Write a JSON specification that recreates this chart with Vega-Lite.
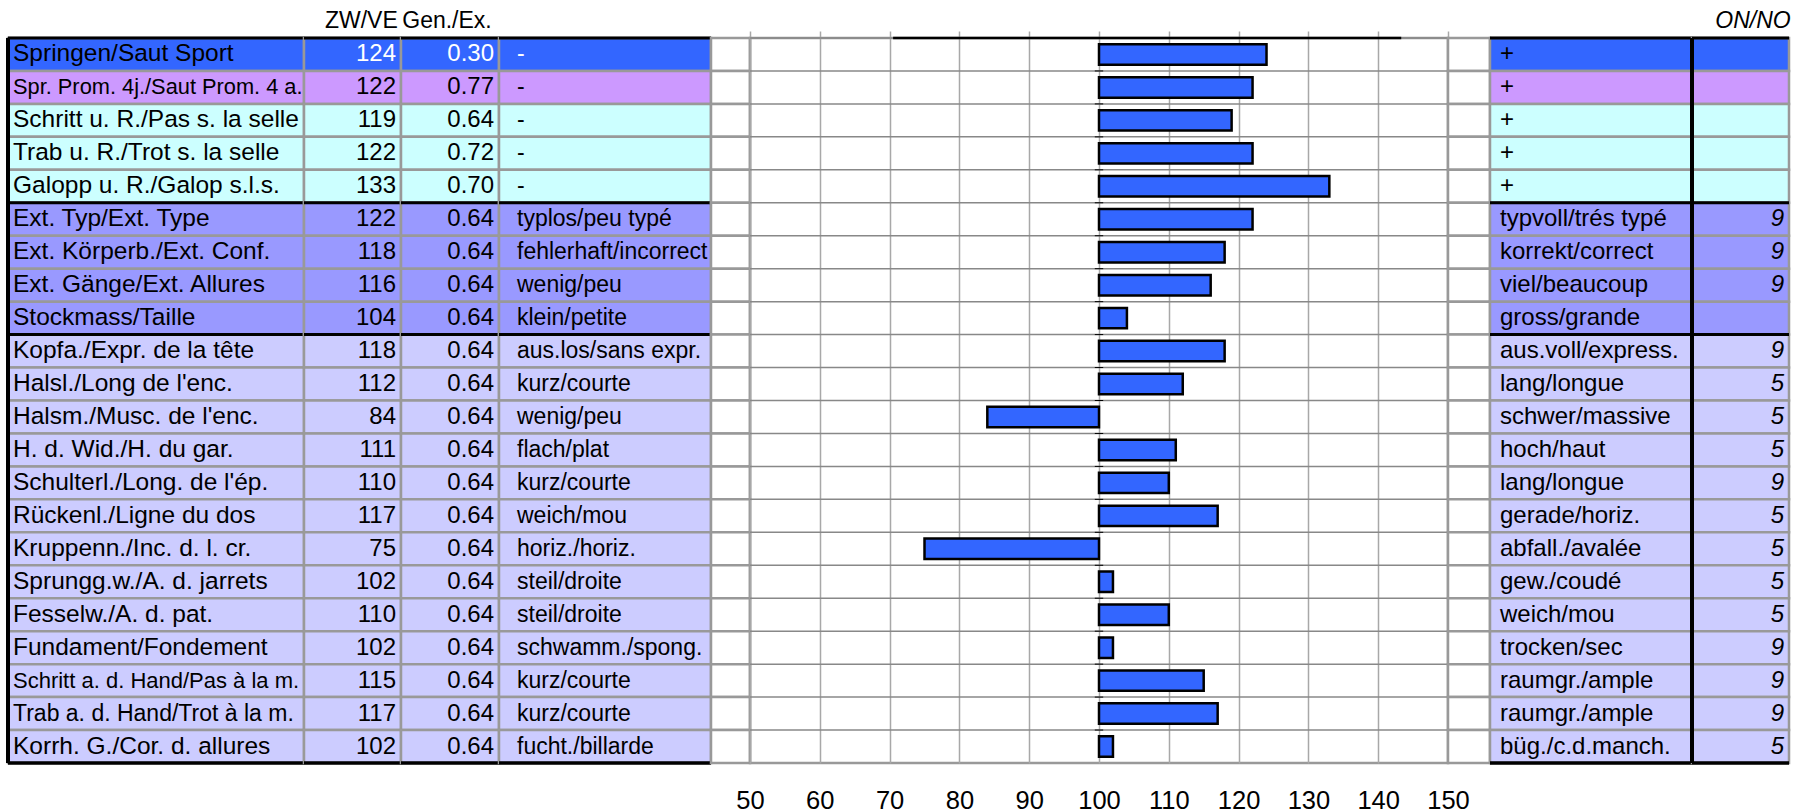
{
  "$schema": "https://vega.github.io/schema/vega-lite/v6.json",
  "padding": {"left": 6, "top": 10, "right": 0, "bottom": 0},
  "background": "white",
  "data": {"values": [
    {"i": 1, "name": "Springen/Saut Sport", "zw": 124, "gen": 0.30, "lo": "-", "hi": "+", "on": "", "g": "a"},
    {"i": 2, "name": "Spr. Prom. 4j./Saut Prom. 4 a.", "zw": 122, "gen": 0.77, "lo": "-", "hi": "+", "on": "", "g": "b"},
    {"i": 3, "name": "Schritt u. R./Pas s. la selle", "zw": 119, "gen": 0.64, "lo": "-", "hi": "+", "on": "", "g": "c"},
    {"i": 4, "name": "Trab u. R./Trot s. la selle", "zw": 122, "gen": 0.72, "lo": "-", "hi": "+", "on": "", "g": "c"},
    {"i": 5, "name": "Galopp u. R./Galop s.l.s.", "zw": 133, "gen": 0.70, "lo": "-", "hi": "+", "on": "", "g": "c"},
    {"i": 6, "name": "Ext. Typ/Ext. Type", "zw": 122, "gen": 0.64, "lo": "typlos/peu typé", "hi": "typvoll/trés typé", "on": "9", "g": "d"},
    {"i": 7, "name": "Ext. Körperb./Ext. Conf.", "zw": 118, "gen": 0.64, "lo": "fehlerhaft/incorrect", "hi": "korrekt/correct", "on": "9", "g": "d"},
    {"i": 8, "name": "Ext. Gänge/Ext. Allures", "zw": 116, "gen": 0.64, "lo": "wenig/peu", "hi": "viel/beaucoup", "on": "9", "g": "d"},
    {"i": 9, "name": "Stockmass/Taille", "zw": 104, "gen": 0.64, "lo": "klein/petite", "hi": "gross/grande", "on": "", "g": "d"},
    {"i": 10, "name": "Kopfa./Expr. de la tête", "zw": 118, "gen": 0.64, "lo": "aus.los/sans expr.", "hi": "aus.voll/express.", "on": "9", "g": "e"},
    {"i": 11, "name": "Halsl./Long de l'enc.", "zw": 112, "gen": 0.64, "lo": "kurz/courte", "hi": "lang/longue", "on": "5", "g": "e"},
    {"i": 12, "name": "Halsm./Musc. de l'enc.", "zw": 84, "gen": 0.64, "lo": "wenig/peu", "hi": "schwer/massive", "on": "5", "g": "e"},
    {"i": 13, "name": "H. d. Wid./H. du gar.", "zw": 111, "gen": 0.64, "lo": "flach/plat", "hi": "hoch/haut", "on": "5", "g": "e"},
    {"i": 14, "name": "Schulterl./Long. de l'ép.", "zw": 110, "gen": 0.64, "lo": "kurz/courte", "hi": "lang/longue", "on": "9", "g": "e"},
    {"i": 15, "name": "Rückenl./Ligne du dos", "zw": 117, "gen": 0.64, "lo": "weich/mou", "hi": "gerade/horiz.", "on": "5", "g": "e"},
    {"i": 16, "name": "Kruppenn./Inc. d. l. cr.", "zw": 75, "gen": 0.64, "lo": "horiz./horiz.", "hi": "abfall./avalée", "on": "5", "g": "e"},
    {"i": 17, "name": "Sprungg.w./A. d. jarrets", "zw": 102, "gen": 0.64, "lo": "steil/droite", "hi": "gew./coudé", "on": "5", "g": "e"},
    {"i": 18, "name": "Fesselw./A. d. pat.", "zw": 110, "gen": 0.64, "lo": "steil/droite", "hi": "weich/mou", "on": "5", "g": "e"},
    {"i": 19, "name": "Fundament/Fondement", "zw": 102, "gen": 0.64, "lo": "schwamm./spong.", "hi": "trocken/sec", "on": "9", "g": "e"},
    {"i": 20, "name": "Schritt a. d. Hand/Pas à la m.", "zw": 115, "gen": 0.64, "lo": "kurz/courte", "hi": "raumgr./ample", "on": "9", "g": "e"},
    {"i": 21, "name": "Trab a. d. Hand/Trot à la m.", "zw": 117, "gen": 0.64, "lo": "kurz/courte", "hi": "raumgr./ample", "on": "9", "g": "e"},
    {"i": 22, "name": "Korrh. G./Cor. d. allures", "zw": 102, "gen": 0.64, "lo": "fucht./billarde", "hi": "büg./c.d.manch.", "on": "5", "g": "e"}
  ]},
  "bounds": "flush",
  "spacing": 0,
  "hconcat": [
    {
      "width": 296, "height": 725,
      "layer": [
        {"mark": {"type": "rect", "stroke": "#999999", "strokeWidth": 2.5},
         "encoding": {"y": {"field": "i", "type": "ordinal", "axis": null, "scale": {"paddingInner": 0, "paddingOuter": 0}},
                      "color": {"field": "g", "type": "nominal", "legend": null, "scale": {"domain": ["a", "b", "c", "d", "e"], "range": ["#3366FF", "#CC99FF", "#CCFFFF", "#9999FF", "#CCCCFF"]}}}},
        {"mark": {"type": "text", "align": "left"},
         "encoding": {"y": {"field": "i", "type": "ordinal", "axis": null}, "x": {"value": 5}, "text": {"field": "name"},
                      "size": {"condition": [{"test": "datum.i==2", "value": 21.8}, {"test": "datum.i==20", "value": 22}, {"test": "datum.i==21", "value": 23}], "value": 24.5}}},
        {"transform": [{"filter": "datum.i==1||datum.i==6||datum.i==10"}],
         "mark": {"type": "rule", "stroke": "black", "strokeWidth": 3},
         "encoding": {"y": {"field": "i", "type": "ordinal", "axis": null, "bandPosition": 0}}},
        {"transform": [{"filter": "datum.i==22"}],
         "mark": {"type": "rule", "stroke": "black", "strokeWidth": 3.5},
         "encoding": {"y": {"field": "i", "type": "ordinal", "axis": null, "bandPosition": 1}}},
        {"mark": {"type": "rule", "stroke": "black", "strokeWidth": 3}, "encoding": {"x": {"value": 0}}}
      ]
    },
    {
      "width": 97, "height": 725,
      "title": {"text": "ZW/VE", "anchor": "end", "dx": -5},
      "layer": [
        {"mark": {"type": "rect", "stroke": "#999999", "strokeWidth": 2.5},
         "encoding": {"y": {"field": "i", "type": "ordinal", "axis": null, "scale": {"paddingInner": 0, "paddingOuter": 0}},
                      "color": {"field": "g", "type": "nominal", "legend": null, "scale": {"domain": ["a", "b", "c", "d", "e"], "range": ["#3366FF", "#CC99FF", "#CCFFFF", "#9999FF", "#CCCCFF"]}}}},
        {"mark": {"type": "text", "align": "right"},
         "encoding": {"y": {"field": "i", "type": "ordinal", "axis": null}, "x": {"value": 92}, "text": {"field": "zw"},
                      "color": {"condition": {"test": "datum.i==1", "value": "white"}, "value": "black"}}},
        {"transform": [{"filter": "datum.i==1||datum.i==6||datum.i==10"}],
         "mark": {"type": "rule", "stroke": "black", "strokeWidth": 3},
         "encoding": {"y": {"field": "i", "type": "ordinal", "axis": null, "bandPosition": 0}}},
        {"transform": [{"filter": "datum.i==22"}],
         "mark": {"type": "rule", "stroke": "black", "strokeWidth": 3.5},
         "encoding": {"y": {"field": "i", "type": "ordinal", "axis": null, "bandPosition": 1}}}
      ]
    },
    {
      "width": 98, "height": 725,
      "title": {"text": "Gen./Ex.", "anchor": "start", "dx": 3},
      "layer": [
        {"mark": {"type": "rect", "stroke": "#999999", "strokeWidth": 2.5},
         "encoding": {"y": {"field": "i", "type": "ordinal", "axis": null, "scale": {"paddingInner": 0, "paddingOuter": 0}},
                      "color": {"field": "g", "type": "nominal", "legend": null, "scale": {"domain": ["a", "b", "c", "d", "e"], "range": ["#3366FF", "#CC99FF", "#CCFFFF", "#9999FF", "#CCCCFF"]}}}},
        {"mark": {"type": "text", "align": "right"},
         "encoding": {"y": {"field": "i", "type": "ordinal", "axis": null}, "x": {"value": 93}, "text": {"field": "gen", "format": ".2f"},
                      "color": {"condition": {"test": "datum.i==1", "value": "white"}, "value": "black"}}},
        {"transform": [{"filter": "datum.i==1||datum.i==6||datum.i==10"}],
         "mark": {"type": "rule", "stroke": "black", "strokeWidth": 3},
         "encoding": {"y": {"field": "i", "type": "ordinal", "axis": null, "bandPosition": 0}}},
        {"transform": [{"filter": "datum.i==22"}],
         "mark": {"type": "rule", "stroke": "black", "strokeWidth": 3.5},
         "encoding": {"y": {"field": "i", "type": "ordinal", "axis": null, "bandPosition": 1}}}
      ]
    },
    {
      "width": 212, "height": 725,
      "layer": [
        {"mark": {"type": "rect", "stroke": "#999999", "strokeWidth": 2.5},
         "encoding": {"y": {"field": "i", "type": "ordinal", "axis": null, "scale": {"paddingInner": 0, "paddingOuter": 0}},
                      "color": {"field": "g", "type": "nominal", "legend": null, "scale": {"domain": ["a", "b", "c", "d", "e"], "range": ["#3366FF", "#CC99FF", "#CCFFFF", "#9999FF", "#CCCCFF"]}}}},
        {"mark": {"type": "text", "align": "left", "fontSize": 23},
         "encoding": {"y": {"field": "i", "type": "ordinal", "axis": null}, "x": {"value": 18}, "text": {"field": "lo"},
                      "color": {"condition": {"test": "datum.i==1", "value": "white"}, "value": "black"}}},
        {"transform": [{"filter": "datum.i==1||datum.i==6||datum.i==10"}],
         "mark": {"type": "rule", "stroke": "black", "strokeWidth": 3},
         "encoding": {"y": {"field": "i", "type": "ordinal", "axis": null, "bandPosition": 0}}},
        {"transform": [{"filter": "datum.i==22"}],
         "mark": {"type": "rule", "stroke": "black", "strokeWidth": 3.5},
         "encoding": {"y": {"field": "i", "type": "ordinal", "axis": null, "bandPosition": 1}}}
      ]
    },
    {
      "width": 39, "height": 725,
      "mark": {"type": "rect", "fill": "white", "stroke": "#999999", "strokeWidth": 2.5},
      "encoding": {"y": {"field": "i", "type": "ordinal", "axis": null, "scale": {"paddingInner": 0, "paddingOuter": 0}}}
    },
    {
      "width": 698, "height": 725,
      "view": {"stroke": "#999999", "strokeWidth": 2.5},
      "resolve": {"axis": {"x": "independent"}},
      "layer": [
        {"mark": {"type": "rule", "stroke": "#888888", "strokeWidth": 1.5},
         "encoding": {"y": {"field": "i", "type": "ordinal", "axis": null, "bandPosition": 0, "scale": {"paddingInner": 0, "paddingOuter": 0}}}},
        {"mark": {"type": "bar", "fill": "#3366FF", "stroke": "black", "strokeWidth": 2.5, "height": {"band": 0.62}},
         "encoding": {
           "y": {"field": "i", "type": "ordinal", "axis": null},
           "x": {"field": "zw", "type": "quantitative", "scale": {"domain": [50, 150], "nice": false, "zero": false},
                 "axis": {"orient": "bottom", "values": [50, 60, 70, 80, 90, 100, 110, 120, 130, 140, 150], "grid": true, "gridColor": "#a8a8a8", "gridWidth": 1.5, "domain": false, "ticks": false, "labelFontSize": 25.5, "labelPadding": 25, "labelColor": "black", "labelFlush": false, "labelOverlap": false, "title": null, "labelFont": "Liberation Sans, Arial, sans-serif"}},
           "x2": {"datum": 100}
         }},
        {"mark": {"type": "rule", "stroke": "black", "strokeWidth": 1},
         "encoding": {"y": {"field": "i", "type": "ordinal", "axis": null, "bandPosition": 0}, "x": {"datum": 99.4, "axis": null}, "x2": {"datum": 100.6}}},
        {"transform": [{"filter": "datum.i==1"}],
         "mark": {"type": "rule", "stroke": "black", "strokeWidth": 2.5},
         "encoding": {"y": {"field": "i", "type": "ordinal", "axis": null, "bandPosition": 0},
                      "x": {"datum": 70.5, "axis": {"orient": "top", "values": [50, 60, 70, 80, 90, 100, 110, 120, 130, 140, 150], "labels": false, "domain": false, "ticks": true, "tickSize": 7, "tickColor": "#a8a8a8", "tickWidth": 1.5, "grid": false, "title": null}},
                      "x2": {"datum": 143.3}}}
      ]
    },
    {
      "width": 42, "height": 725,
      "mark": {"type": "rect", "fill": "white", "stroke": "#999999", "strokeWidth": 2.5},
      "encoding": {"y": {"field": "i", "type": "ordinal", "axis": null, "scale": {"paddingInner": 0, "paddingOuter": 0}}}
    },
    {
      "width": 202, "height": 725,
      "layer": [
        {"mark": {"type": "rect", "stroke": "#999999", "strokeWidth": 2.5},
         "encoding": {"y": {"field": "i", "type": "ordinal", "axis": null, "scale": {"paddingInner": 0, "paddingOuter": 0}},
                      "color": {"field": "g", "type": "nominal", "legend": null, "scale": {"domain": ["a", "b", "c", "d", "e"], "range": ["#3366FF", "#CC99FF", "#CCFFFF", "#9999FF", "#CCCCFF"]}}}},
        {"mark": {"type": "text", "align": "left"},
         "encoding": {"y": {"field": "i", "type": "ordinal", "axis": null}, "x": {"value": 10}, "text": {"field": "hi"}}},
        {"transform": [{"filter": "datum.i==1||datum.i==6||datum.i==10"}],
         "mark": {"type": "rule", "stroke": "black", "strokeWidth": 3},
         "encoding": {"y": {"field": "i", "type": "ordinal", "axis": null, "bandPosition": 0}}},
        {"transform": [{"filter": "datum.i==22"}],
         "mark": {"type": "rule", "stroke": "black", "strokeWidth": 3.5},
         "encoding": {"y": {"field": "i", "type": "ordinal", "axis": null, "bandPosition": 1}}}
      ]
    },
    {
      "width": 97, "height": 725,
      "title": {"text": "ON/NO", "anchor": "end", "fontStyle": "italic"},
      "layer": [
        {"mark": {"type": "rect", "stroke": "#999999", "strokeWidth": 2.5},
         "encoding": {"y": {"field": "i", "type": "ordinal", "axis": null, "scale": {"paddingInner": 0, "paddingOuter": 0}},
                      "color": {"field": "g", "type": "nominal", "legend": null, "scale": {"domain": ["a", "b", "c", "d", "e"], "range": ["#3366FF", "#CC99FF", "#CCFFFF", "#9999FF", "#CCCCFF"]}}}},
        {"mark": {"type": "text", "align": "right", "fontStyle": "italic"},
         "encoding": {"y": {"field": "i", "type": "ordinal", "axis": null}, "x": {"value": 92}, "text": {"field": "on"}}},
        {"transform": [{"filter": "datum.i==1||datum.i==6||datum.i==10"}],
         "mark": {"type": "rule", "stroke": "black", "strokeWidth": 3},
         "encoding": {"y": {"field": "i", "type": "ordinal", "axis": null, "bandPosition": 0}}},
        {"transform": [{"filter": "datum.i==22"}],
         "mark": {"type": "rule", "stroke": "black", "strokeWidth": 3.5},
         "encoding": {"y": {"field": "i", "type": "ordinal", "axis": null, "bandPosition": 1}}},
        {"mark": {"type": "rule", "stroke": "black", "strokeWidth": 3}, "encoding": {"x": {"value": 0}}}
      ]
    }
  ],
  "resolve": {"scale": {"color": "independent", "size": "independent"}},
  "config": {
    "view": {"stroke": null},
    "text": {"font": "Liberation Sans, Arial, sans-serif", "fontSize": 24, "color": "black"},
    "title": {"font": "Liberation Sans, Arial, sans-serif", "fontSize": 23, "fontWeight": "normal", "color": "black", "offset": 3.5}
  }
}
